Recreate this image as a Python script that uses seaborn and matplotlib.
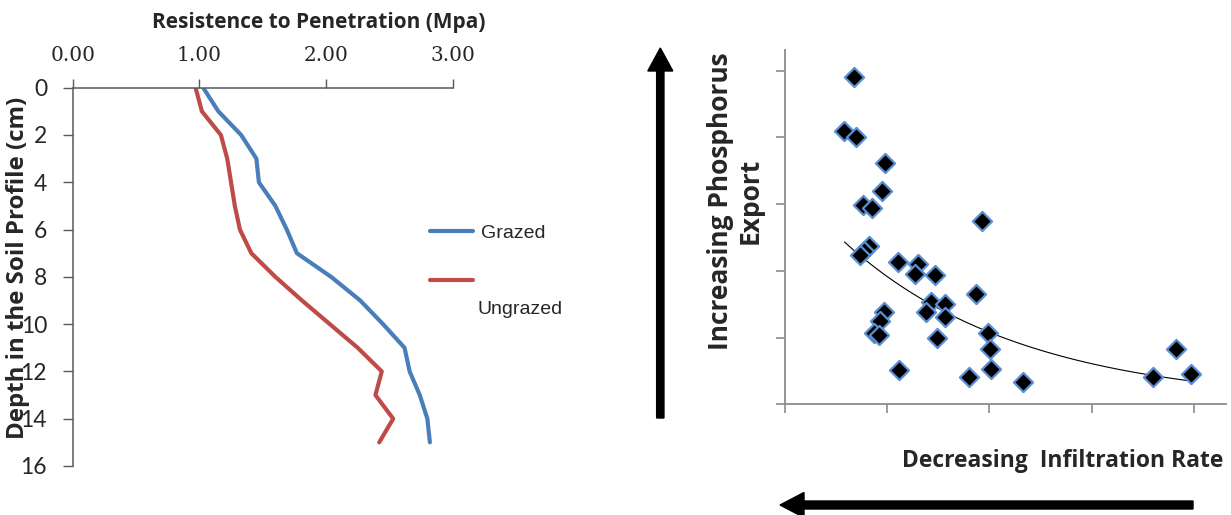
import numpy as np
import pandas as pd
import matplotlib
matplotlib.use("Agg")
import matplotlib.pyplot as plt
import seaborn as sns
from matplotlib.patches import FancyArrow
from matplotlib.transforms import IdentityTransform

# ---------------- data ----------------
depth_cm = [0, 1, 2, 3, 4, 5, 6, 7, 8, 9, 10, 11, 12, 13, 14, 15]
grazed = [1.03, 1.15, 1.33, 1.45, 1.47, 1.60, 1.69, 1.77, 2.04, 2.27, 2.45, 2.62, 2.66, 2.74, 2.80, 2.82]
ungrazed = [0.97, 1.02, 1.17, 1.22, 1.25, 1.28, 1.32, 1.41, 1.60, 1.81, 2.03, 2.25, 2.44, 2.39, 2.53, 2.42]
series_names = ["Grazed", "Ungrazed"]
x_ticks_left = [0, 1, 2, 3]
x_ticklabels_left = ["0.00", "1.00", "2.00", "3.00"]
y_ticks_left = [0, 2, 4, 6, 8, 10, 12, 14, 16]

infiltration = [0.672, 0.583, 0.697, 0.978, 0.948, 0.760, 0.849, 1.926, 0.827, 0.775,
                0.734, 1.107, 1.299, 1.269, 1.465, 1.871, 1.428, 1.568, 1.380, 1.568,
                0.967, 0.930, 0.875, 0.923, 1.491, 1.982, 2.007, 1.114, 2.018, 1.801,
                2.332, 3.827, 3.601, 3.974]
phosphorus = [4.90, 4.10, 4.01, 3.615, 3.20, 2.98, 2.94, 2.74, 2.37, 2.305,
              2.24, 2.14, 2.105, 1.955, 1.94, 1.655, 1.53, 1.505, 1.39, 1.315,
              1.39, 1.255, 1.065, 1.04, 1.00, 1.065, 0.825, 0.515, 0.525, 0.405,
              0.33, 0.825, 0.405, 0.45]
x_ticks_right = [0, 1, 2, 3, 4]
y_ticks_right = [0, 1, 2, 3, 4, 5]

# ---------------- style ----------------
sns.set_theme(style="white")
plt.rcParams["font.family"] = ["Lato", "DejaVu Sans"]
BOLD = ["Open Sans", "DejaVu Sans"]

W, H = 1231, 515
fig = plt.figure(figsize=(W / 100, H / 100), dpi=100)
fig.patch.set_facecolor("white")

# ---------------- left panel ----------------
axL = fig.add_axes([72.7 / W, 1 - 466 / H, 380 / W, (466 - 87.7) / H])
df = pd.DataFrame({
    "depth": depth_cm * 2,
    "resistance": grazed + ungrazed,
    "treatment": [series_names[0]] * len(depth_cm) + [series_names[1]] * len(depth_cm),
})
palette = {"Grazed": "#4A7EBB", "Ungrazed": "#BE4B48"}
sns.lineplot(data=df, x="resistance", y="depth", hue="treatment", orient="y",
             palette=palette, linewidth=3, ax=axL, legend=False, estimator=None)
axL.set_xlim(0, 3)
axL.set_ylim(16, 0)
axL.set_xticks(x_ticks_left)
axL.set_xticklabels(x_ticklabels_left, fontfamily="DejaVu Serif", fontsize=14.5)
axL.set_yticks(y_ticks_left)
axL.set_yticklabels([str(v) for v in y_ticks_left], fontsize=16.5)
axL.xaxis.tick_top()
axL.tick_params(axis="x", which="both", direction="out", length=6.5, width=1.0,
                color="#595959", pad=10, top=True, bottom=False)
axL.tick_params(axis="y", direction="out", length=7, width=1.0, color="#595959",
                pad=11.5, left=True)
for s in ["right", "bottom"]:
    axL.spines[s].set_visible(False)
for s in ["left", "top"]:
    axL.spines[s].set_color("#595959")
    axL.spines[s].set_linewidth(1.1)

axL.xaxis.set_label_position("top")
axL.set_xlabel("Resistence to Penetration (Mpa)", fontsize=15, fontweight="bold",
               fontfamily=BOLD)
axL.xaxis.set_label_coords((319 - 72.7) / 380, (466 - 22.5) / (466 - 87.7))
axL.xaxis.label.set_va("center")
axL.set_ylabel("Depth in the Soil Profile (cm)", fontsize=17.3, fontweight="bold",
               fontfamily=BOLD)
axL.yaxis.set_label_coords((18 - 72.7) / 380, (466 - 268) / (466 - 87.7))
axL.yaxis.label.set_va("center")

handles = [plt.Line2D([], [], color=palette[n], lw=3, solid_capstyle="round") for n in series_names]
leg = axL.legend(handles, series_names, loc="upper left",
                 bbox_to_anchor=(430, H - 224), bbox_transform=IdentityTransform(),
                 frameon=False, borderpad=0, borderaxespad=0,
                 handlelength=2.2, handletextpad=0.43, labelspacing=1.6,
                 prop={"family": "Liberation Sans", "size": 14})
leg.texts[1].set_position((-3.7, -27.3))

# ---------------- right panel ----------------
axR = fig.add_axes([784.8 / W, 1 - 404.3 / H, 440.9 / W, 354.3 / H])
sns.scatterplot(x=infiltration, y=phosphorus, marker="D", s=95, color="black",
                edgecolor="#5B8FD3", linewidth=1.6, ax=axR, zorder=3)
b, lna = np.polyfit(np.array(infiltration), np.log(np.array(phosphorus)), 1)
xs = np.linspace(min(infiltration), max(infiltration), 200)
sns.lineplot(x=xs, y=np.exp(lna) * np.exp(b * xs), color="black", linewidth=0.8, ax=axR, zorder=2)
axR.set_xlim(0, 4.31)
axR.set_ylim(0, 5.31)
axR.set_xticks(x_ticks_right)
axR.set_yticks(y_ticks_right)
axR.set_xticklabels([])
axR.set_yticklabels([])
axR.tick_params(axis="both", direction="out", length=6.5, width=1.2, color="#8C8C8C",
                left=True, bottom=True)
for s in ["right", "top"]:
    axR.spines[s].set_visible(False)
for s in ["left", "bottom"]:
    axR.spines[s].set_color("#8C8C8C")
    axR.spines[s].set_linewidth(1.3)

axR.set_xlabel("Decreasing  Infiltration Rate", fontsize=16.5, fontweight="bold",
               fontfamily=BOLD)
axR.xaxis.set_label_coords((1223.3 - 784.8) / 440.9, (404.3 - 461) / 354.3)
axR.xaxis.label.set_ha("right")
axR.xaxis.label.set_va("center")
axR.set_ylabel("Increasing Phosphorus\nExport", fontsize=19, fontweight="bold",
               fontfamily=BOLD, linespacing=1.12)
axR.yaxis.set_label_coords((735 - 784.8) / 440.9, (404.3 - 201) / 354.3)
axR.yaxis.label.set_va("center")

# ---------------- arrows (pixel coordinates) ----------------
fig.add_artist(FancyArrow(660.3, H - 418, 0, 418 - 48, width=7.3, head_width=25,
                          head_length=23, length_includes_head=True, color="black",
                          transform=IdentityTransform()))
fig.add_artist(FancyArrow(1193, H - 505, 780 - 1193, 0, width=8, head_width=25,
                          head_length=24, length_includes_head=True, color="black",
                          transform=IdentityTransform()))

fig.savefig("out.png", dpi=100, facecolor="white")
